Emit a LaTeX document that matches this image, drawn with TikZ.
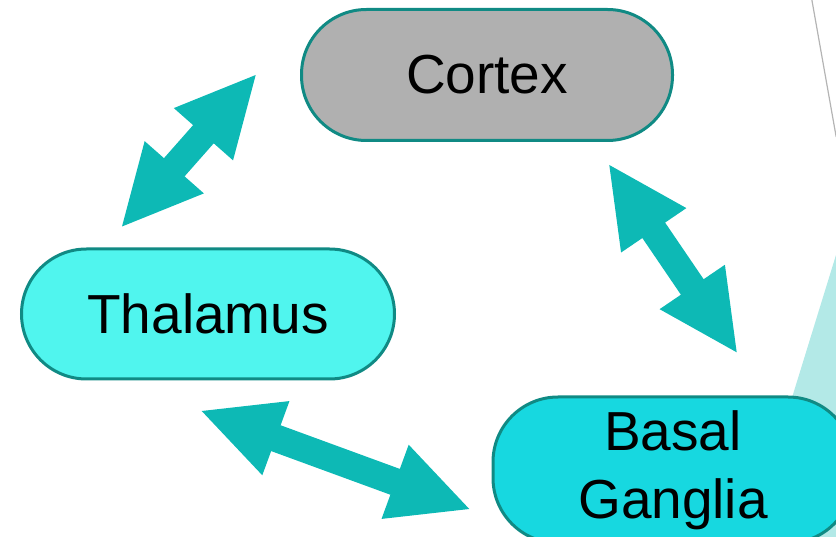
\documentclass[tikz,border=0pt]{standalone}
\usepackage{fontspec}
\setmainfont{Liberation Sans}
\usetikzlibrary{calc}
\definecolor{rimteal}{HTML}{108A84}
\definecolor{arrowteal}{HTML}{0DB9B5}
\definecolor{cortexgray}{HTML}{B0B0B0}
\definecolor{thalcyan}{HTML}{50F5EE}
\definecolor{basalcyan}{HTML}{17D8E0}
\definecolor{paleteal}{HTML}{B3E9E7}
\definecolor{edgegray}{HTML}{B4B4B4}
% thick double-headed block arrow between two named points
\newcommand{\dblblock}[2]{%
  \fill[arrowteal] let \p1=(#1), \p2=(#2),
    \n1={atan2(\y2-\y1,\x2-\x1)}, \n2={veclen(\x2-\x1,\y2-\y1)} in
    [shift={(\p1)}, rotate=\n1]
    (0,0) -- (79,39.5) -- (79,13.75) -- ({\n2-79},13.75) -- ({\n2-79},39.5)
    -- (\n2,0) -- ({\n2-79},-39.5) -- ({\n2-79},-13.75) -- (79,-13.75)
    -- (79,-39.5) -- cycle;}

\begin{document}
\begin{tikzpicture}[x=1pt, y=-1pt,
    region/.style={draw=rimteal, line width=3pt, rounded corners=65pt,
      inner sep=0pt, align=center, font=\fontsize{55}{68}\selectfont},
  ]
			\clip (0,0) rectangle (836,537);
			\fill[paleteal] (836,255) -- (749,537) -- (836,537) -- cycle;
			\draw[edgegray, line width=1.2pt] (811.7,-1) -- (836.2,137);
			\node[region, fill=cortexgray, minimum width=371pt, minimum height=131pt] (cortex) at (487,75) {Cortex};
			\node[region, fill=thalcyan, minimum width=373pt, minimum height=130pt] (thalamus) at (208,314) {Thalamus};
			\node[region, fill=basalcyan, minimum width=360pt, minimum height=146pt] (basal) at (673,470) {Basal\\Ganglia};
			\coordinate (tc1) at (122,226.5);
			\coordinate (tc2) at (255.7,75);
			\coordinate (cb1) at (609.3,165);
			\coordinate (cb2) at (736.7,352.3);
			\coordinate (tb1) at (201.7,411);
			\coordinate (tb2) at (469.3,509);
			\dblblock{tc1}{tc2}
			\dblblock{cb1}{cb2}
			\dblblock{tb1}{tb2}
	\end{tikzpicture}
\end{document}
